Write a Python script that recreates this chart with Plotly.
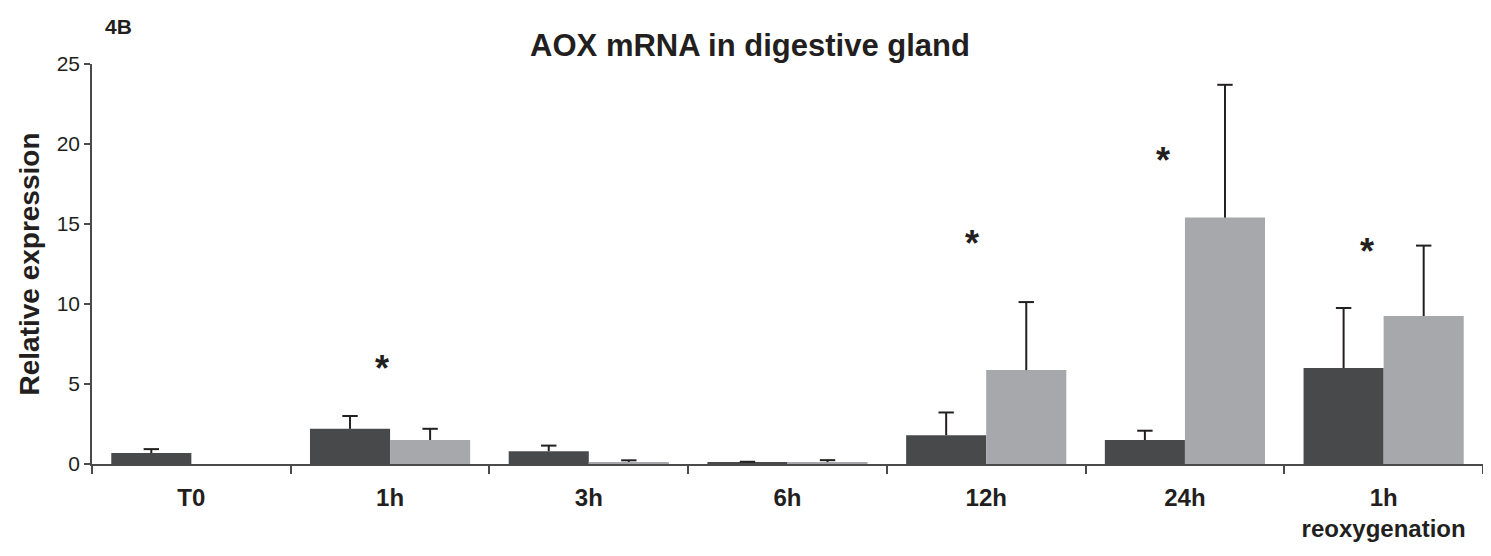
import plotly.graph_objects as go

categories = ["T0", "1h", "3h", "6h", "12h", "24h", "1h<br>reoxygenation"]
dark_values = [0.68, 2.2, 0.8, 0.08, 1.8, 1.5, 6.0]
dark_errors = [0.25, 0.8, 0.35, 0.06, 1.42, 0.58, 3.75]
light_values = [None, 1.5, 0.13, 0.12, 5.87, 15.4, 9.25]
light_errors = [None, 0.7, 0.1, 0.12, 4.25, 8.3, 4.4]
star_categories = [1, 4, 5, 6]
star_y = [6.0, 13.8, 19.0, 13.3]
star_offset = [-0.04, -0.07, -0.11, -0.085]
y_ticks = [0, 5, 10, 15, 20, 25]

DARK = "#48494b"
LIGHT = "#a7a8ab"
INK = "#231f20"
AXIS = "#4a4a4a"
FONT = "Liberation Sans, Arial, sans-serif"
BARGAP = 0.194

# browser body margin offset (8px) compensation
BODY = 8
W, H = 1491 - BODY, 556 - BODY
ML, MR, MT, MB = 92 - BODY, 8, 64 - BODY, 92

fig = go.Figure()
fig.add_trace(go.Bar(x=categories, y=dark_values,
                     marker=dict(color=DARK, line=dict(width=0)), name="dark"))
fig.add_trace(go.Bar(x=categories, y=light_values,
                     marker=dict(color=LIGHT, line=dict(width=0)), name="light"))

# error bars (upper only, cap at the top) drawn on an overlaid numeric axis
half = (1 - BARGAP) / 4
for vals, errs, sign in [(dark_values, dark_errors, -1), (light_values, light_errors, 1)]:
    xs, tops, minus = [], [], []
    for i, (v, e) in enumerate(zip(vals, errs)):
        if v is None:
            continue
        xs.append(i + sign * half)
        tops.append(v + e)
        minus.append(e)
    fig.add_trace(go.Scatter(
        x=xs, y=tops, xaxis="x2", mode="markers",
        marker=dict(symbol="line-ew-open", size=11, color=INK,
                    line=dict(color=INK, width=2)),
        error_y=dict(type="data", symmetric=False, array=[0] * len(minus),
                     arrayminus=minus, color=INK, thickness=2, width=0),
        hoverinfo="skip"))

for c, yv, off in zip(star_categories, star_y, star_offset):
    fig.add_annotation(x=c + off, y=yv, xref="x2", yref="y", text="<b>*</b>",
                       showarrow=False, font=dict(size=36, color=INK, family=FONT),
                       xanchor="center", yanchor="middle")

plot_w = W - ML - MR
plot_h = H - MT - MB
fig.add_annotation(x=(118 - 92) / plot_w, y=(464 - 26) / plot_h, xref="paper", yref="paper",
                   text="<b>4B</b>", showarrow=False,
                   font=dict(size=21, color=INK, family=FONT),
                   xanchor="center", yanchor="middle")

fig.update_layout(
    width=W, height=H,
    paper_bgcolor="white", plot_bgcolor="white",
    margin=dict(l=ML, r=MR, t=MT, b=MB, autoexpand=False),
    barmode="group", bargap=BARGAP, bargroupgap=0,
    showlegend=False,
    font=dict(family=FONT, color=INK),
    title=dict(text="<b>AOX mRNA in digestive gland</b>", x=(750 - BODY) / W, xanchor="center",
               y=1 - (45 - BODY) / H, yanchor="middle",
               font=dict(size=31, color=INK, family=FONT)),
    xaxis=dict(showline=True, linecolor=AXIS, linewidth=1.5, ticks="outside",
               tickson="boundaries", ticklen=8, tickcolor=AXIS, tickwidth=1.5,
               showgrid=False, tickfont=dict(size=24, color=INK, family=FONT),
               ticklabelstandoff=11, range=[-0.5, 6.5],
               tickprefix="<b>", ticksuffix="</b>"),
    xaxis2=dict(overlaying="x", range=[-0.5, 6.5], visible=False, showgrid=False),
    yaxis=dict(range=[0, 25], tickvals=y_ticks, showline=True, linecolor=AXIS,
               linewidth=1.5, ticks="outside", ticklen=6, tickcolor=AXIS,
               tickwidth=1.5, showgrid=False, zeroline=False,
               tickfont=dict(size=21, color=INK, family=FONT),
               title=dict(text="<b>Relative expression</b>", standoff=9,
                          font=dict(size=28, color=INK, family=FONT))),
)

fig.write_html("out.html")
